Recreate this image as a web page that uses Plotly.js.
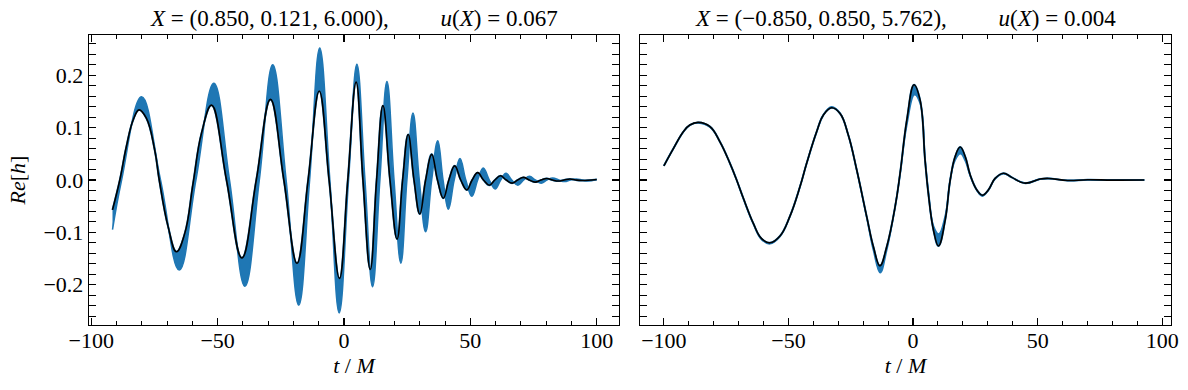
<!DOCTYPE html>
<html>
<head>
<meta charset="utf-8">
<script src="https://cdn.plot.ly/plotly-3.0.1.min.js"></script>
<style>
  html, body { margin: 0; padding: 0; background: #fff; }
  #plot { width: 1188px; height: 390px; }
</style>
</head>
<body>
<div id="plot"></div>
<script>
// left panel: black = mean waveform, blue = outer edge of band
const tLeftMean = [-91.6, -88.7, -86.1, -83.4, -81.1, -78.2, -74.9, -73.1, -69.6, -66.3, -63.0, -59.7, -56.4, -52.4, -46.5, -40.4, -34.7, -29.1, -23.8, -18.6, -14.2, -9.8, -5.9, -1.8, 1.5, 4.8, 7.5, 10.4, 12.9, 15.4, 18.2, 21.0, 23.2, 25.4, 27.7, 30.0, 32.3, 34.7, 37.0, 39.3, 41.5, 43.8, 46.2, 48.6, 50.7, 52.9, 55.2, 57.5, 59.7, 61.9, 64.2, 66.5, 68.7, 71.0, 73.3, 75.6, 78.0, 80.2, 82.5, 84.8, 87.1, 89.4, 91.7, 94.0, 100.0];
const hLeftMean = [-0.057, 0.0, 0.064, 0.115, 0.134, 0.118, 0.057, 0.0, -0.089, -0.137, -0.102, -0.006, 0.089, 0.143, 0.0, -0.149, 0.0, 0.154, 0.0, -0.159, 0.0, 0.170, 0.0, -0.188, 0.0, 0.187, 0.0, -0.171, 0.0, 0.142, 0.0, -0.113, 0.0, 0.087, 0.0, -0.065, 0.0, 0.049, 0.0, -0.035, 0.0, 0.027, 0.0, -0.019, 0.0, 0.014, 0.0, -0.010, 0.0, 0.008, 0.0, -0.006, 0.0, 0.005, 0.0, -0.004, 0.0, 0.003, 0.0, -0.002, 0.0, 0.002, 0.0, -0.001, 0.001];

const tLeftBand = [-91.6, -88.0, -80.1, -72.6, -65.2, -58.6, -51.5, -45.3, -39.2, -33.5, -28.2, -22.9, -17.9, -13.6, -9.6, -5.6, -1.9, 1.8, 5.1, 8.3, 11.3, 14.2, 17.0, 19.8, 22.5, 24.9, 27.3, 29.8, 32.3, 34.7, 37.1, 39.2, 41.3, 43.6, 45.9, 48.2, 50.6, 52.9, 55.1, 57.5, 59.8, 62.0, 64.1, 66.4, 68.8, 71.1, 73.4, 75.7, 78.0, 80.3, 82.6, 85.0, 87.3, 89.6, 91.9, 94.2, 96.5, 100.0];
const hLeftBand = [-0.095, 0.0, 0.159, 0.0, -0.172, 0.0, 0.185, 0.0, -0.203, 0.0, 0.220, 0.0, -0.239, 0.0, 0.252, 0.0, -0.254, 0.0, 0.221, 0.0, -0.204, 0.0, 0.188, 0.0, -0.159, 0.0, 0.128, 0.0, -0.099, 0.0, 0.075, 0.0, -0.056, 0.0, 0.041, 0.0, -0.031, 0.0, 0.023, 0.0, -0.017, 0.0, 0.013, 0.0, -0.010, 0.0, 0.007, 0.0, -0.006, 0.0, 0.004, 0.0, -0.003, 0.0, 0.002, 0.0, -0.002, 0.001];

// right panel
const tRightMean = [-100.0, -96.3, -92.2, -89.6, -86.2, -81.5, -77.5, -73.5, -70.8, -68.1, -64.1, -60.8, -57.4, -53.4, -49.4, -45.4, -42.7, -38.7, -36.0, -32.7, -29.3, -26.0, -22.6, -18.6, -15.9, -13.3, -10.6, -7.2, -5.2, -2.5, 0.4, 2.8, 4.8, 6.1, 8.2, 10.2, 12.9, 14.9, 16.9, 18.9, 20.9, 22.9, 25.6, 27.8, 30.2, 32.9, 36.3, 39.6, 45.0, 51.0, 54.5, 62.0, 70.0, 80.0, 92.8];
const hRightMean = [0.027, 0.059, 0.092, 0.105, 0.110, 0.102, 0.073, 0.032, 0.0, -0.035, -0.083, -0.112, -0.120, -0.107, -0.069, -0.013, 0.032, 0.092, 0.124, 0.138, 0.127, 0.086, 0.019, -0.070, -0.128, -0.164, -0.128, -0.051, 0.013, 0.115, 0.182, 0.153, 0.038, -0.025, -0.096, -0.126, -0.076, 0.0, 0.045, 0.063, 0.045, 0.010, -0.019, -0.029, -0.019, 0.003, 0.013, 0.005, -0.006, 0.002, 0.003, -0.001, 0.0005, -0.0002, 0.0];

const tRightBand = [-100.0, -96.3, -92.2, -89.6, -86.2, -81.5, -77.5, -73.5, -70.8, -68.1, -64.1, -60.8, -57.4, -53.4, -49.4, -45.4, -42.7, -38.7, -36.0, -32.7, -29.3, -26.0, -22.6, -18.6, -15.9, -13.2, -10.6, -7.2, -5.2, -2.5, 0.6, 2.9, 4.9, 6.2, 8.2, 10.3, 12.9, 14.9, 16.9, 19.0, 20.9, 22.9, 25.6, 27.8, 30.2, 32.9, 36.3, 39.6, 45.0, 51.0, 54.5, 62.0, 70.0, 80.0, 92.8];
const hRightBand = [0.027, 0.059, 0.092, 0.105, 0.109, 0.101, 0.073, 0.032, 0.0, -0.036, -0.084, -0.114, -0.122, -0.108, -0.069, -0.013, 0.032, 0.092, 0.125, 0.140, 0.128, 0.086, 0.019, -0.072, -0.135, -0.177, -0.135, -0.051, 0.011, 0.105, 0.163, 0.145, 0.036, -0.022, -0.088, -0.103, -0.068, 0.0, 0.038, 0.050, 0.037, 0.008, -0.020, -0.031, -0.020, 0.002, 0.012, 0.005, -0.006, 0.002, 0.003, -0.001, 0.0005, -0.0002, 0.0];

const nb = '\u00a0\u00a0\u00a0\u00a0\u00a0\u00a0\u00a0\u00a0\u00a0';
const titles = [
  '<i>X</i> = (0.850, 0.121, 6.000),' + nb + '<i>u</i>(<i>X</i>) = 0.067',
  '<i>X</i> = (\u22120.850, 0.850, 5.762),' + nb + '<i>u</i>(<i>X</i>) = 0.004'
];

const BLUE = '#1f77b4';
const FONT = 'Liberation Serif, serif';
const leftRange = [-100.9, 108.8];
const rightRange = [-109.6, 103.5];

// mean line goes on the overlay axis that carries the tick labels
function panel(t1, h1, t2, h2, xa, xlab, ya) {
    let edge = {
        x: t1, y: h1, xaxis: xa, yaxis: ya,
        mode: 'lines', line: {color: BLUE, width: 2, shape: 'spline', smoothing: 1.2},
        hoverinfo: 'skip', showlegend: false
    };
    let band = {
        x: t2, y: h2, xaxis: xa, yaxis: ya,
        mode: 'lines', line: {color: BLUE, width: 1.5, shape: 'spline', smoothing: 1.2},
        fill: 'tonexty', fillcolor: BLUE,
        hoverinfo: 'skip', showlegend: false
    };
    let mean = {
        x: t1, y: h1, xaxis: xlab, yaxis: ya,
        mode: 'lines', line: {color: '#000', width: 1.6, shape: 'spline', smoothing: 1.2},
        showlegend: false
    };
    return [edge, band, mean];
}

function axisBase() {
    return {
        showline: true, linecolor: '#000', linewidth: 1.3,
        mirror: 'allticks', ticks: 'inside', ticklen: 7, tickwidth: 1.2, tickcolor: '#000',
        showgrid: false, zeroline: false,
        tickfont: {family: FONT, size: 22, color: '#000'}
    };
}

function xTicks(domain, range, anchor) {
    return Object.assign(axisBase(), {
        domain: domain, range: range, tick0: 0, dtick: 50, showticklabels: false,
        minor: {dtick: 10, ticks: 'inside', ticklen: 4, tickwidth: 1, tickcolor: '#000'},
        anchor: anchor
    });
}

// label-only axis sitting on the bottom frame, numbers close to it
function xLabels(over, range) {
    return {
        overlaying: over, range: range, anchor: 'free', position: 0,
        tick0: 0, dtick: 50, ticks: '', showline: false, showgrid: false, zeroline: false,
        tickfont: {family: FONT, size: 22, color: '#000'},
        title: {text: '<i>t</i> / <i>M</i>', font: {family: FONT, size: 22, color: '#000'}, standoff: 4}
    };
}

let yaxis = Object.assign(axisBase(), {
    domain: [0, 1], range: [-0.277, 0.277], tick0: 0, dtick: 0.1, tickformat: '.1f',
    minor: {dtick: 0.02, ticks: 'inside', ticklen: 4, tickwidth: 1, tickcolor: '#000'},
    title: {text: '<i>Re</i>[<i>h</i>]', font: {family: FONT, size: 22, color: '#000'}, standoff: 11},
    anchor: 'x'
});
let yaxis2 = Object.assign(axisBase(), {
    domain: [0, 1], range: [-0.277, 0.277], tick0: 0, dtick: 0.1,
    minor: {dtick: 0.02, ticks: 'inside', ticklen: 4, tickwidth: 1, tickcolor: '#000'},
    showticklabels: false, matches: 'y',
    anchor: 'x2'
});

let layout = {
    width: 1188, height: 390,
    margin: {l: 89, r: 17, t: 35, b: 65},
    paper_bgcolor: '#fff', plot_bgcolor: '#fff',
    font: {family: FONT, color: '#000'},
    xaxis: xTicks([0, 0.4898], leftRange, 'y'),
    xaxis2: xTicks([0.5092, 1], rightRange, 'y2'),
    xaxis3: xLabels('x', leftRange),
    xaxis4: xLabels('x2', rightRange),
    yaxis: yaxis, yaxis2: yaxis2,
    annotations: [
        {text: titles[0], xref: 'x domain', yref: 'paper', x: 0.5, y: 1, yshift: 2,
         xanchor: 'center', yanchor: 'bottom', showarrow: false, font: {family: FONT, size: 23, color: '#000'}},
        {text: titles[1], xref: 'x2 domain', yref: 'paper', x: 0.5, y: 1, yshift: 2,
         xanchor: 'center', yanchor: 'bottom', showarrow: false, font: {family: FONT, size: 23, color: '#000'}}
    ]
};

let data = panel(tLeftMean, hLeftMean, tLeftBand, hLeftBand, 'x', 'x3', 'y')
    .concat(panel(tRightMean, hRightMean, tRightBand, hRightBand, 'x2', 'x4', 'y2'));

Plotly.newPlot(document.getElementById('plot'), data, layout, {displayModeBar: false, staticPlot: true});
</script>
</body>
</html>
